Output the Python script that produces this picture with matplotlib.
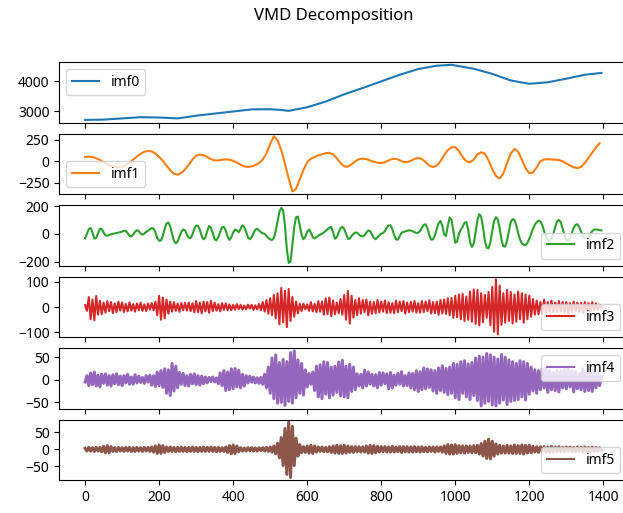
import numpy as np
import matplotlib
matplotlib.use("Agg")
import matplotlib.pyplot as plt

plt.rcParams['font.family'] = ['Noto Sans', 'DejaVu Sans']

# imf0: slow trend (sample index, value)
imf0_t = [0, 50, 100, 150, 200, 250, 300, 350, 400, 450, 500, 530, 550, 600, 650,
          700, 750, 800, 850, 900, 950, 990, 1050, 1100, 1150, 1200, 1250, 1300, 1350, 1395]
imf0_v = [2720, 2730, 2770, 2810, 2800, 2770, 2860, 2930, 3000, 3070, 3075, 3050, 3020, 3140, 3330,
          3570, 3780, 4000, 4220, 4410, 4520, 4550, 4420, 4250, 4030, 3920, 3970, 4090, 4220, 4280]

# imf1: one value every 10 samples
imf1_v = [50, 55, 50, 35, 15, -10, -35, -55, -66, -70,
          -65, -45, -15, 20, 55, 88, 110, 120, 115, 90,
          50, 5, -50, -105, -145, -155, -135, -95, -40, 20,
          65, 78, 70, 50, 25, 10, 10, 18, 22, 18,
          5, -15, -40, -60, -66, -60, -45, -20, 20, 90,
          200, 290, 245, 130, -30, -200, -350, -320, -210, -100,
          -10, 30, 50, 68, 80, 95, 98, 80, 35, -20,
          -60, -62, -35, 0, 25, 31, 25, 10, -5, -17,
          -20, -12, 10, 28, 28, 12, -8, -10, 5, 28,
          39, 25, -10, -50, -66, -50, 0, 70, 130, 162,
          165, 120, 50, 0, -12, 20, 80, 105, 90, 10,
          -90, -170, -200, -140, -20, 90, 144, 110, 20, -80,
          -140, -130, -70, 0, 20, 25, 22, 20, 15, 0,
          -25, -50, -70, -78, -65, -20, 40, 100, 160, 210]

# imf2: one value every 5 samples
imf2_v = [-32, 0, 35, 42, 10, -35, -30, 5, 37, 35, 10, -10, -14, -8, -3, 0, 3, 6, 9, 12,
          16, 22, 22, 5, -15, -18, -5, 15, 26, 20, 3, -6, 2, 15, 22, 33, 42, 38, 10, -30,
          -50, -48, -15, 35, 75, 82, 55, 0, -50, -69, -55, -20, 15, 32, 25, -5, -28, -30, -5, 35,
          60, 58, 30, -15, -39, -25, 20, 57, 45, 5, -40, -47, -25, 15, 48, 50, 25, -20, -44, -25,
          10, 32, 25, 12, 35, 62, 50, 15, -25, -39, -25, 5, 30, 37, 25, 12, 4, 0, -15, -30,
          -40, -44, -30, 20, 90, 160, 188, 170, 60, -110, -210, -200, -80, 50, 120, 125, 60, -10, -39, -20,
          15, 32, 10, -25, -32, -25, -15, -5, 0, 10, 22, 35, 45, 50, 10, -35, -25, 10, 40, 52,
          35, 0, -35, -35, -15, 0, 10, 8, -5, -15, -19, -10, 10, 24, 20, -5, -30, -39, -25, -10,
          0, 6, 20, 45, 60, 62, 35, -10, -40, -42, -15, 8, 14, 18, 22, 26, 24, 18, 12, 7,
          8, 20, 45, 65, 69, 40, -10, -42, -40, -10, 35, 75, 94, 60, -5, -15, 60, 118, 100, 20,
          -65, -55, 0, 30, 50, 80, 85, 30, -60, -95, -70, 10, 100, 143, 125, 50, -50, -100, -105, -60,
          20, 95, 120, 105, 40, -45, -90, -92, -50, 20, 85, 107, 100, 60, 5, -40, -70, -80, -80, -65,
          -35, 0, 35, 65, 85, 94, 90, 65, 20, -20, -45, -50, -35, 0, 50, 90, 100, 85, 40, -10,
          -45, -50, -30, 5, 45, 65, 69, 50, 15, -15, -28, -30, -20, 0, 20, 30, 32, 30, 27, 25]

# imf3..imf5: one value every 5 samples
imf3_v = [8, -15, 40, -48, 30, -52, 44, -30, 25, -28, 18, -22, 24, -16, 20, -24, 15, -20, 22, -14,
          18, -20, 13, -17, 19, -14, 12, -18, 15, -12, 17, -15, 11, -16, 14, -10, 16, -13, 22, -32,
          45, -50, 38, -44, 30, -26, 22, -18, 20, -15, 14, -19, 16, -12, 17, -14, 18, -16, 15, -21,
          24, -20, 18, -25, 22, -17, 20, -22, 25, -16, 18, -14, 12, -17, 16, -11, 15, -13, 11, -12,
          9, -10, 12, -8, 9, -10, 6, -9, 10, -6, 9, -11, 7, -9, 13, -12, 20, -18, 28, -26,
          35, -32, 48, -45, 55, -68, 76, -60, 65, -79, 72, -55, 40, -38, 22, -25, 13, -16, 14, -9,
          11, -15, 20, -17, 13, -20, 24, -18, 22, -30, 35, -28, 38, -36, 26, -28, 18, -24, 32, -30,
          48, -50, 64, -65, 45, -42, 28, -32, 35, -26, 28, -20, 30, -33, 22, -26, 20, -24, 28, -21,
          22, -18, 26, -24, 20, -22, 16, -24, 26, -20, 22, -16, 24, -26, 18, -20, 21, -18, 24, -22,
          16, -22, 24, -20, 22, -16, 27, -25, 20, -24, 22, -30, 28, -25, 30, -27, 35, -32, 36, -42,
          45, -40, 50, -48, 52, -55, 42, -50, 62, -58, 70, -66, 68, -72, 55, -60, 48, -42, 60, -72,
          80, -98, 110, -108, 85, -70, 55, -62, 68, -55, 60, -65, 50, -58, 62, -48, 55, -62, 50, -48,
          45, -38, 32, -30, 26, -28, 20, -24, 30, -24, 20, -22, 26, -20, 18, -20, 24, -18, 20, -22,
          20, -24, 16, -18, 22, -15, 18, -20, 17, -24, 20, -14, 16, -18, 20, -13, 15, -12, 10, -5]

imf4_v = [-5, 9, -13, 15, -11, 17, -14, 10, -16, 12, -8, 13, -12, 9, -14, 11, -9, 13, -11, 8,
          -13, 9, -7, 12, -10, 6, -10, 11, -7, 8, -6, 5, -8, 9, -5, 10, -12, 9, -15, 17,
          -13, 20, -17, 24, -30, 22, -35, 36, -25, 30, -18, 16, -10, 14, -13, 9, -14, 12, -9, 13,
          -11, 9, -12, 8, -9, 6, -7, 5, -4, 6, -5, 4, -9, 15, -13, 20, -24, 17, -22, 24,
          -20, 25, -16, 21, -18, 12, -14, 9, -7, 8, -5, 6, -7, 4, -8, 5, -10, 12, -18, 28,
          -30, 48, -42, 55, -52, 38, -50, 45, -57, 40, -48, 60, -52, 64, -40, 44, -30, 36, -34, 22,
          -16, 14, -10, 17, -24, 30, -38, 33, -42, 40, -32, 38, -40, 28, -34, 30, -28, 39, -36, 43,
          -38, 30, -40, 34, -26, 28, -22, 13, -14, 12, -18, 21, -14, 17, -10, 12, -14, 11, -18, 16,
          -12, 15, -9, 13, -20, 16, -18, 10, -12, 14, -10, 18, -14, 9, -13, 15, -18, 14, -22, 20,
          -26, 18, -22, 26, -20, 24, -17, 22, -25, 20, -30, 26, -24, 31, -28, 25, -33, 28, -30, 36,
          -40, 34, -44, 40, -30, 42, -38, 35, -44, 38, -35, 48, -46, 52, -58, 50, -52, 58, -48, 55,
          -56, 50, -58, 46, -52, 56, -45, 50, -55, 44, -48, 40, -46, 36, -44, 42, -38, 40, -45, 36,
          -32, 28, -25, 22, -30, 20, -22, 24, -18, 26, -28, 20, -22, 16, -24, 21, -27, 19, -18, 22,
          -20, 24, -16, 20, -27, 18, -20, 14, -22, 24, -26, 18, -24, 16, -26, 20, -18, 16, -13, 8]

imf5_v = [3, -5, 6, -5, 5, -6, 6, -5, 6, -7, 9, -10, 11, -10, 8, -6, 5, -6, 6, -5,
          5, -6, 6, -5, 6, -6, 5, -6, 6, -5, 5, -6, 6, -5, 6, -6, 7, -8, 10, -12,
          13, -12, 11, -9, 7, -6, 7, -6, 6, -7, 6, -6, 7, -6, 6, -7, 6, -6, 7, -6,
          6, -7, 6, -6, 7, -6, 6, -6, 7, -6, 6, -7, 6, -6, 5, -6, 7, -9, 11, -13,
          13, -12, 10, -7, 5, -5, 4, -5, 5, -4, 5, -5, 4, -5, 5, -4, 5, -5, 6, -6,
          7, -8, 10, -13, 18, -25, 35, -48, 62, -74, 80, -83, 68, -48, 33, -20, 14, -10, 8, -9,
          10, -11, 12, -12, 10, -8, 7, -6, 7, -7, 6, -7, 8, -9, 10, -11, 12, -12, 11, -12,
          12, -11, 10, -9, 8, -9, 8, -7, 8, -8, 7, -8, 10, -11, 12, -12, 11, -10, 9, -8,
          8, -7, 8, -8, 7, -8, 9, -8, 7, -7, 8, -9, 8, -7, 8, -8, 7, -8, 8, -7,
          7, -8, 8, -7, 6, -7, 7, -6, 7, -8, 7, -6, 7, -8, 10, -12, 14, -14, 13, -14,
          14, -12, 11, -10, 10, -11, 10, -9, 10, -10, 11, -10, 12, -14, 17, -20, 24, -27, 30, -28,
          24, -20, 16, -14, 12, -11, 10, -11, 12, -11, 10, -12, 13, -12, 11, -12, 13, -14, 12, -11,
          12, -10, 9, -8, 8, -9, 8, -7, 8, -8, 7, -8, 9, -8, 7, -7, 8, -7, 6, -7,
          7, -6, 7, -7, 6, -7, 7, -6, 6, -7, 7, -6, 6, -6, 7, -6, 6, -5, 5, -3]

series = [
    ("imf0", imf0_t, imf0_v, [3000, 4000], "upper left", 1.5),
    ("imf1", np.arange(len(imf1_v)) * 10, imf1_v, [-250, 0, 250], "lower left", 1.5),
    ("imf2", np.arange(len(imf2_v)) * 5, imf2_v, [-200, 0, 200], "lower right", 1.5),
    ("imf3", np.arange(len(imf3_v)) * 5, imf3_v, [-100, 0, 100], "lower right", 1.5),
    ("imf4", np.arange(len(imf4_v)) * 5, imf4_v, [-50, 0, 50], "upper right", 2.2),
    ("imf5", np.arange(len(imf5_v)) * 5, imf5_v, [-50, 0, 50], "lower right", 2.2),
]

fig, axes = plt.subplots(6, 1, sharex=True, figsize=(6.23, 5.13), dpi=100)
fig.subplots_adjust(left=0.095, right=1.007, top=0.879, bottom=0.064, hspace=0.18)
fig.suptitle("VMD Decomposition", x=0.535, y=0.985, fontsize=12)

for i, (ax, (name, t, v, yt, loc, lw)) in enumerate(zip(axes, series)):
    ax.plot(t, v, color=f"C{i}", label=name, lw=lw)
    ax.set_yticks(yt)
    leg = ax.legend(loc=loc)
    leg.get_lines()[0].set_linewidth(1.5)

axes[-1].set_xticks(range(0, 1401, 200))
axes[-1].set_xlim(-70, 1465)

plt.savefig("out.png")
